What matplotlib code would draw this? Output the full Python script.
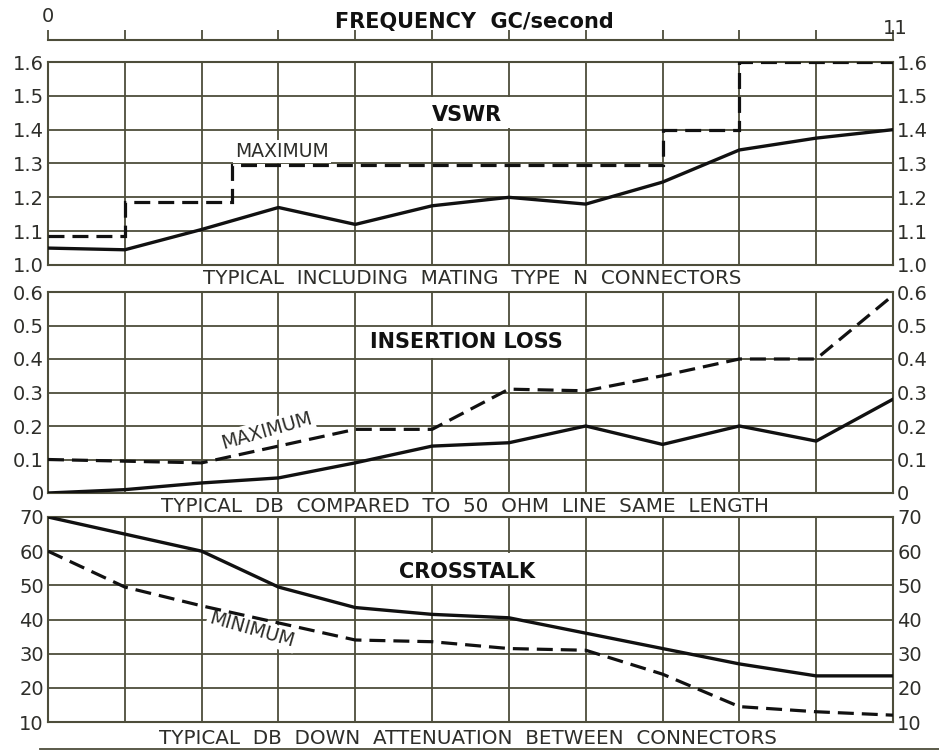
"""
Connector performance vs frequency: VSWR, insertion loss, crosstalk
"""
import matplotlib
matplotlib.use("Agg")
import matplotlib.pyplot as plt
from matplotlib.patches import Rectangle

plt.rcParams['font.family'] = ['DejaVu Sans']

freq = list(range(12))  # GC/second, 0..11

# VSWR
vswr_typical = [1.05, 1.045, 1.105, 1.17, 1.12, 1.175, 1.20, 1.18, 1.245, 1.34, 1.375, 1.40]
vswr_max_edges = [0, 1, 2.4, 8, 9, 11]
vswr_max_levels = [1.085, 1.185, 1.295, 1.40, 1.60]

# insertion loss (db)
loss_typical = [0.0, 0.01, 0.03, 0.045, 0.09, 0.14, 0.15, 0.20, 0.145, 0.20, 0.155, 0.28]
loss_max = [0.10, 0.095, 0.09, 0.14, 0.19, 0.19, 0.31, 0.305, 0.35, 0.40, 0.40, 0.59]

# crosstalk (db down)
xtalk_typical = [70, 65, 60, 49.5, 43.5, 41.5, 40.5, 36, 31.5, 27, 23.5, 23.5]
xtalk_min = [60, 49.5, 44, 39, 34, 33.5, 31.5, 31, 24, 14.5, 13, 12]

vswr_ticks = [1.0, 1.1, 1.2, 1.3, 1.4, 1.5, 1.6]
vswr_labels = ['1.0', '1.1', '1.2', '1.3', '1.4', '1.5', '1.6']
loss_ticks = [0, 0.1, 0.2, 0.3, 0.4, 0.5, 0.6]
loss_labels = ['0', '0.1', '0.2', '0.3', '0.4', '0.5', '0.6']
xtalk_ticks = [10, 20, 30, 40, 50, 60, 70]
xtalk_labels = ['10', '20', '30', '40', '50', '60', '70']

grid_color = '#4d4d3a'
text_color = '#2e2e2a'
ink = '#111111'
dash = (0, (5, 2.5))
white_box = dict(facecolor='white', edgecolor='none', pad=1.5)

W, H = 939, 754
fig = plt.figure(figsize=(W / 100, H / 100), dpi=100)


def make_panel(top, bottom, ticks, labels):
    ax = fig.add_axes([48 / W, 1 - bottom / H, (893 - 48) / W, (bottom - top) / H])
    ax.set_xlim(0, 11)
    ax.set_ylim(ticks[0], ticks[-1])
    ax.set_xticks(freq)
    ax.set_xticklabels([])
    ax.set_yticks(ticks)
    ax.set_yticklabels(labels)
    ax.tick_params(axis='both', length=0, labelsize=14, labelcolor=text_color,
                   labelright=True, pad=3)
    ax.grid(True, color=grid_color, lw=1.3)
    for s in ax.spines.values():
        s.set_color(grid_color)
        s.set_linewidth(1.5)
    return ax


def title_box(ax, y0, y1, title, pos=0.5):
    # the title sits in a blank strip of grid, between x = 4 and 7
    dy = (y1 - y0) * 0.04
    ax.add_patch(Rectangle((4.03, y0 + dy), 2.94, (y1 - y0) - 2 * dy,
                           facecolor='white', edgecolor='none', zorder=2))
    ax.text(5.45, y0 + (y1 - y0) * pos, title, fontsize=15, fontweight='bold', ha='center',
            va='center', color=ink, zorder=4)


# VSWR
ax1 = make_panel(62, 265, vswr_ticks, vswr_labels)
ax1.plot(freq, vswr_typical, color=ink, lw=2.4, zorder=5)
ax1.stairs(vswr_max_levels, vswr_max_edges, baseline=None, color=ink,
           lw=2.3, ls=dash, zorder=5)
title_box(ax1, 1.4, 1.5, 'VSWR', pos=0.42)
ax1.text(3.05, 1.335, 'MAXIMUM', fontsize=13.5, ha='center', va='center', color=text_color,
         bbox=white_box, zorder=4)

# insertion loss
ax2 = make_panel(292, 493, loss_ticks, loss_labels)
ax2.plot(freq, loss_typical, color=ink, lw=2.4, zorder=5)
ax2.plot(freq, loss_max, color=ink, lw=2.3, ls=dash, zorder=5)
title_box(ax2, 0.4, 0.5, 'INSERTION LOSS')
ax2.text(2.85, 0.185, 'MAXIMUM', fontsize=13.5, ha='center', va='center', rotation=16,
         color=text_color, bbox=white_box, zorder=4)

# crosstalk
ax3 = make_panel(517, 722, xtalk_ticks, xtalk_labels)
ax3.plot(freq, xtalk_typical, color=ink, lw=2.4, zorder=5)
ax3.plot(freq, xtalk_min, color=ink, lw=2.3, ls=dash, zorder=5)
title_box(ax3, 50, 60, 'CROSSTALK', pos=0.38)
ax3.text(2.65, 37, 'MINIMUM', fontsize=13.5, ha='center', va='center', rotation=-16,
         color=text_color, bbox=white_box, zorder=4)

# captions under each panel
fig.text(472 / W, 1 - 279 / H, 'TYPICAL  INCLUDING  MATING  TYPE  N  CONNECTORS',
         fontsize=14.3, ha='center', va='center', color=text_color)
fig.text(465 / W, 1 - 507 / H, 'TYPICAL  DB  COMPARED  TO  50  OHM  LINE  SAME  LENGTH',
         fontsize=14.3, ha='center', va='center', color=text_color)
fig.text(468 / W, 1 - 738 / H, 'TYPICAL  DB  DOWN  ATTENUATION  BETWEEN  CONNECTORS',
         fontsize=14.3, ha='center', va='center', color=text_color)
fig.add_artist(plt.Line2D([40 / W, 1.0], [1 - 749 / H, 1 - 749 / H], color=grid_color, lw=1.3))

# frequency scale on top
axt = fig.add_axes([48 / W, 1 - 40 / H, (893 - 48) / W, 0.0001])
axt.set_xlim(0, 11)
axt.set_yticks([])
axt.set_xticks(freq)
axt.set_xticklabels([])
axt.tick_params(axis='x', direction='in', length=7, width=1.3, color=grid_color)
for name, s in axt.spines.items():
    s.set_visible(name == 'bottom')
axt.spines['bottom'].set_color(grid_color)
axt.spines['bottom'].set_linewidth(1.5)
axt.patch.set_visible(False)
fig.text(48 / W, 1 - 16 / H, '0', fontsize=14, ha='center', va='center', color=text_color)
fig.text(895 / W, 1 - 28 / H, '11', fontsize=14, ha='center', va='center', color=text_color)
fig.text(474 / W, 1 - 22 / H, 'FREQUENCY  GC/second', fontsize=15, fontweight='bold',
         ha='center', va='center', color=ink)

plt.savefig('out.png', dpi=100)
